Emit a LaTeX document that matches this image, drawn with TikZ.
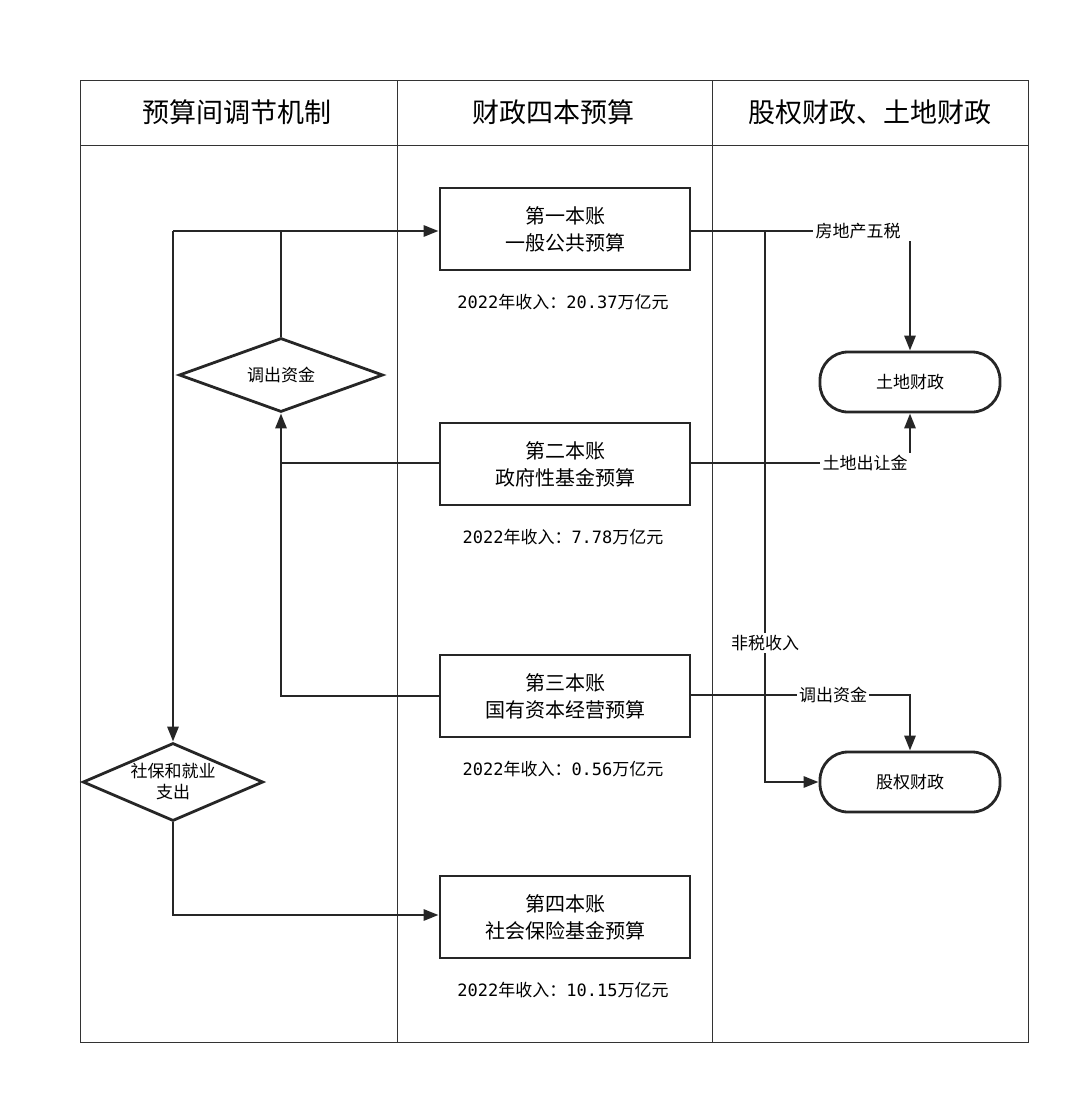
\documentclass[tikz,border=0pt]{standalone}
\usepackage{fontspec}
\setmainfont{Noto Sans CJK SC}
\newfontfamily\capfont{DejaVu Sans Mono}
\usetikzlibrary{shapes.geometric,arrows.meta}
\begin{document}
\begin{tikzpicture}[x=1pt,y=-1pt,
  frame/.style={draw=black!80,line width=1pt},
  acct/.style={draw=black!85,line width=2.8pt,minimum width=250pt,minimum height=82pt,align=center,font=\fontsize{20}{27}\selectfont},
  capt/.style={font=\fontsize{17}{20}\selectfont},
  dia/.style={diamond,draw=black!85,line width=2.8pt,aspect=2.6,inner sep=0pt,align=center,font=\fontsize{17}{21}\selectfont},
  pill/.style={draw=black!85,line width=2.8pt,rounded corners=28pt,minimum width=180pt,minimum height=60pt,font=\fontsize{17}{21}\selectfont},
  lab/.style={fill=white,inner sep=2pt,font=\fontsize{17}{21}\selectfont},
  hd/.style={font=\fontsize{27}{32}\selectfont},
  ln/.style={draw=black!85,line width=2.8pt},
  arr/.style={ln,-{Triangle[length=15pt,width=11pt]}}]
\useasboundingbox (0,0) rectangle (1080,1095);
\draw[frame] (80,80) rectangle (1028,1042);
\draw[frame] (80,145) -- (1028,145);
\draw[frame] (397,80) -- (397,1042);
\draw[frame] (712,80) -- (712,1042);
\node[hd] (h1) at (237,112) {预算间调节机制};
\node[hd] (h2) at (553,112) {财政四本预算};
\node[hd] (h3) at (870,112) {股权财政、土地财政};
\node[acct] (b1) at (565,229) {第一本账\\一般公共预算};
\node[acct] (b2) at (565,464) {第二本账\\政府性基金预算};
\node[acct] (b3) at (565,696) {第三本账\\国有资本经营预算};
\node[acct] (b4) at (565,917) {第四本账\\社会保险基金预算};
\node[capt] (c1) at (563,302) {{\capfont 2022}年收入：{\capfont 20.37}万亿元};
\node[capt] (c2) at (563,537) {{\capfont 2022}年收入：{\capfont 7.78}万亿元};
\node[capt] (c3) at (563,769) {{\capfont 2022}年收入：{\capfont 0.56}万亿元};
\node[capt] (c4) at (563,990) {{\capfont 2022}年收入：{\capfont 10.15}万亿元};
\node[dia,minimum width=204pt,minimum height=74pt] (d1) at (281,375) {调出资金};
\node[dia,minimum width=178pt,minimum height=78pt] (d2) at (173,782) {社保和就业\\支出};
\node[pill] (land) at (910,382) {土地财政};
\node[pill] (eq) at (910,782) {股权财政};
\node[lab] (l1) at (858,231) {房地产五税};
\node[lab] (l2) at (865,463) {土地出让金};
\node[lab] (l3) at (833,695) {调出资金};
\coordinate (tl) at (173,231);
\coordinate (j1) at (281,231);
\coordinate (j2) at (281,463);
\coordinate (j3) at (765,231);
\coordinate (j4) at (765,782);
\coordinate (j5) at (910,695);
\coordinate (j6) at (173,915);
\draw[arr] (tl) -- (b1.west |- tl);
\draw[ln] (d1.north) -- (j1);
\draw[arr] (tl) -- (d2.north);
\draw[arr] (b2.west |- j2) -- (j2) -- (d1.south);
\draw[ln] (b3.west) -| (j2);
\draw[arr] (d2.south) -- (j6) -- (b4.west |- j6);
\draw[ln] (b1.east |- j3) -- (l1.west);
\draw[arr] (j3) -- (j4) -- (eq.west);
\node[lab] (l4) at (765,643) {非税收入};
\draw[arr] (l1.south -| land) -- (land.north);
\draw[ln] (b2.east |- l2) -- (l2.west);
\draw[arr] (l2.north -| land) -- (land.south);
\draw[ln] (b3.east |- l3) -- (l3.west);
\draw[arr] (l3.east) -- (j5) -- (eq.north);
\end{tikzpicture}
\end{document}
